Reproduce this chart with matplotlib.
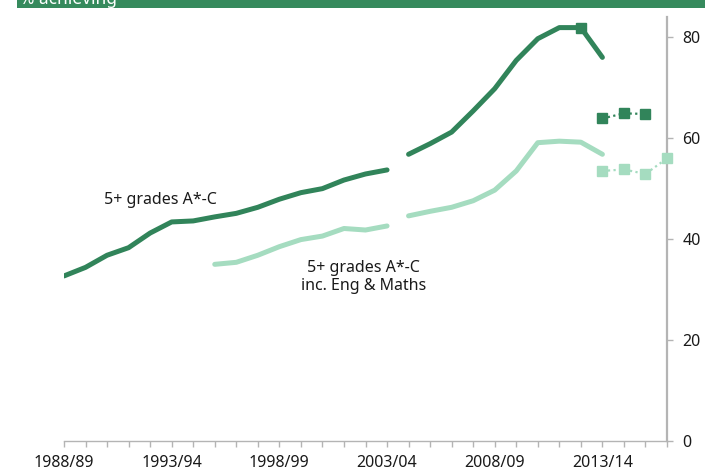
import numpy as np
import matplotlib
matplotlib.use("Agg")
import matplotlib.pyplot as plt
from matplotlib.patches import Rectangle
from matplotlib.ticker import MultipleLocator, FixedLocator

plt.rcParams['font.family'] = ['Noto Sans', 'DejaVu Sans']

years = [f"{y}/{str(y+1)[-2:]}" for y in range(1988, 2017)]  # 1988/89 .. 2016/17

# 5+ grades A*-C (old measure, two segments)
dark_a_idx = list(range(0, 16))
dark_a = [32.7, 34.4, 36.8, 38.3, 41.2, 43.4, 43.6, 44.4, 45.1, 46.3, 47.9, 49.2,
          50.0, 51.7, 52.9, 53.7]
dark_b_idx = list(range(16, 26))
dark_b = [56.8, 58.9, 61.2, 65.4, 69.8, 75.4, 79.7, 81.9, 81.9, 76.0]
dark_marker_idx = [24]
dark_marker = [81.9]
dark_dot_idx = [25, 26, 27]
dark_dot = [63.9, 64.9, 64.8]

# 5+ grades A*-C inc. Eng & Maths
light_a_idx = list(range(7, 16))
light_a = [35.0, 35.4, 36.8, 38.5, 39.9, 40.6, 42.1, 41.8, 42.6]
light_b_idx = list(range(16, 26))
light_b = [44.6, 45.5, 46.3, 47.6, 49.7, 53.5, 59.1, 59.4, 59.2, 56.8]
light_dot_idx = [25, 26, 27, 28]
light_dot = [53.5, 53.8, 52.9, 56.0]

y_ticks = [0, 20, 40, 60, 80]

DARK = '#31845a'
LIGHT = '#a5dcc0'
AXIS = '#b4b4b4'
TXT = '#1a1a1a'

W, H = 705, 476
fig = plt.figure(figsize=(W/100, H/100), dpi=100)
x0, x1 = 64, 667
y0, y1 = 441, 17
ax = fig.add_axes([x0/W, (H-y0)/H, (x1-x0)/W, (y0-y1)/H])
ax.set_xlim(0, 28)
ax.set_ylim(0, 84)

lw = 3.6
for xi, yv, c in [(dark_a_idx, dark_a, DARK), (dark_b_idx, dark_b, DARK),
                  (light_a_idx, light_a, LIGHT), (light_b_idx, light_b, LIGHT)]:
    ax.plot(xi, yv, color=c, lw=lw, solid_capstyle='round', solid_joinstyle='round', zorder=3)

ax.plot(dark_marker_idx, dark_marker, 's', color=DARK, ms=6.5, zorder=4)
ax.plot(dark_dot_idx, dark_dot, color=DARK, lw=1.6, ls=(0, (1, 1.5)), marker='s', ms=6.5, zorder=4)
ax.plot(light_dot_idx, light_dot, color=LIGHT, lw=1.6, ls=(0, (1, 1.5)), marker='s', ms=6.5,
        zorder=4, clip_on=False)

ax.text(4.5, 47.8, "5+ grades A*-C", ha='center', va='center', fontsize=11.5, color=TXT)
ax.text(13.9, 32.5, "5+ grades A*-C\ninc. Eng & Maths", ha='center', va='center',
        fontsize=11.5, color=TXT, linespacing=1.15)

for s in ['top', 'left']:
    ax.spines[s].set_visible(False)
ax.spines['bottom'].set_color(AXIS)
ax.spines['bottom'].set_linewidth(1.0)
ax.spines['right'].set_color(AXIS)
ax.spines['right'].set_linewidth(1.6)

ax.yaxis.tick_right()
ax.set_yticks(y_ticks)
ax.set_yticklabels([str(v) for v in y_ticks])
ax.tick_params(axis='y', direction='out', length=4, width=1, color=AXIS, pad=7,
               labelsize=11.5, labelcolor=TXT)

ax.xaxis.set_major_locator(FixedLocator(list(range(0, 26, 5))))
ax.set_xticklabels([years[i] for i in range(0, 26, 5)])
ax.xaxis.set_minor_locator(MultipleLocator(1))
ax.tick_params(axis='x', which='both', direction='out', length=4, width=1, color=AXIS,
               pad=6, labelsize=11.5, labelcolor=TXT)

# Banner at top
fig.patches.append(Rectangle((17/W, (H-8)/H), 1 - 17/W, 8/H, transform=fig.transFigure,
                             facecolor='#368a5d', edgecolor='none', zorder=0))
fig.text(20/W, (H-4)/H, "% achieving", color='white', fontsize=12.5, ha='left', va='baseline')

fig.savefig('out.png', dpi=100)
